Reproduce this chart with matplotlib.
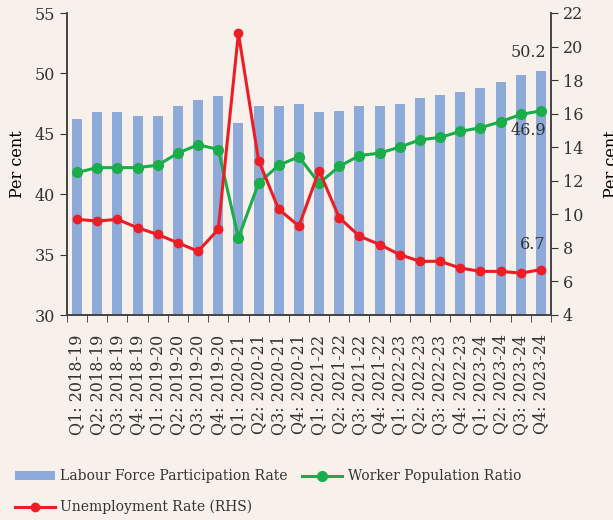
import matplotlib
matplotlib.use("Agg")
import matplotlib.pyplot as plt
import numpy as np

quarters = [
    "Q1: 2018-19", "Q2: 2018-19", "Q3: 2018-19", "Q4: 2018-19",
    "Q1: 2019-20", "Q2: 2019-20", "Q3: 2019-20", "Q4: 2019-20",
    "Q1: 2020-21", "Q2: 2020-21", "Q3: 2020-21", "Q4: 2020-21",
    "Q1: 2021-22", "Q2: 2021-22", "Q3: 2021-22", "Q4: 2021-22",
    "Q1: 2022-23", "Q2: 2022-23", "Q3: 2022-23", "Q4: 2022-23",
    "Q1: 2023-24", "Q2: 2023-24", "Q3: 2023-24", "Q4: 2023-24",
]
lfpr = [46.2, 46.8, 46.8, 46.5, 46.5, 47.3, 47.8, 48.1, 45.9, 47.3, 47.3, 47.5,
        46.8, 46.9, 47.3, 47.3, 47.5, 48.0, 48.2, 48.5, 48.8, 49.3, 49.9, 50.2]
wpr = [41.8, 42.2, 42.2, 42.2, 42.4, 43.4, 44.1, 43.7, 36.4, 40.9, 42.4, 43.1,
       40.9, 42.3, 43.2, 43.4, 43.9, 44.5, 44.7, 45.2, 45.5, 46.0, 46.6, 46.9]
ur = [9.7, 9.6, 9.7, 9.2, 8.8, 8.3, 7.8, 9.1, 20.8, 13.2, 10.3, 9.3,
      12.6, 9.8, 8.7, 8.2, 7.6, 7.2, 7.2, 6.8, 6.6, 6.6, 6.5, 6.7]

BG = "#f7f0eb"
BAR = "#8eaad8"
GREEN = "#1aad4b"
RED = "#ee1d25"
INK = "#333333"

plt.rcParams["font.family"] = ["DejaVu Serif"]
plt.rcParams["text.color"] = INK
plt.rcParams["xtick.color"] = INK
plt.rcParams["ytick.color"] = INK

fig = plt.figure(figsize=(6.13, 5.2), dpi=100, facecolor=BG)
ax = fig.add_axes([67 / 613, 1 - 315 / 520, (551 - 67) / 613, (315 - 13) / 520])
ax.set_facecolor(BG)
ax2 = ax.twinx()

x = np.arange(len(quarters))
bars = ax.bar(x, lfpr, width=0.5, color=BAR, label="Labour Force Participation Rate", zorder=1)
(l_wpr,) = ax.plot(x, wpr, color=GREEN, lw=2.2, marker="o", ms=7,
                   label="Worker Population Ratio", zorder=3)
(l_ur,) = ax2.plot(x, ur, color=RED, lw=2.2, marker="o", ms=6,
                   label="Unemployment Rate (RHS)", zorder=3)

ax.set_xlim(-0.5, len(quarters) - 0.5)
ax.set_ylim(30, 55)
ax2.set_ylim(4, 22)
ax.set_yticks(np.arange(30, 56, 5))
ax2.set_yticks(np.arange(4, 23, 2))

ax.set_xticks(x)
ax.set_xticklabels(quarters, rotation=90, fontsize=11.5)
ax.tick_params(axis="x", length=0, pad=14)
ax.set_xticks(np.arange(-0.5, len(quarters), 1), minor=True)
ax.tick_params(axis="x", which="minor", length=5, direction="out", color=INK)
ax.tick_params(axis="y", labelsize=11.5, length=5, color=INK)
ax2.tick_params(axis="y", labelsize=11.5, length=5, color=INK)

for a in (ax, ax2):
    a.spines["top"].set_visible(False)
    for s in ("left", "right", "bottom"):
        a.spines[s].set_color("#444444")
        a.spines[s].set_linewidth(1.2)

ax.set_ylabel("Per cent", fontsize=11.5, labelpad=6)
ax2.set_ylabel("Per cent", fontsize=11.5, labelpad=14)

ax.text(x[-1] + 0.25, lfpr[-1] + 1.5, "50.2", ha="right", va="center", fontsize=11.5)
ax.text(x[-1] + 0.25, wpr[-1] - 1.6, "46.9", ha="right", va="center", fontsize=11.5)
ax2.text(x[-1] + 0.25, ur[-1] + 1.5, "6.7", ha="right", va="center", fontsize=11.5)

# column-wise fill: LFPR / UR in column 1, WPR in column 2
fig.legend([bars, l_ur, l_wpr],
           ["Labour Force Participation Rate", "Unemployment Rate (RHS)", "Worker Population Ratio"],
           loc="lower left", bbox_to_anchor=(9 / 613, 0.0), ncol=2,
           frameon=False, fontsize=10, handlelength=2.9, columnspacing=1.0,
           handletextpad=0.4, labelspacing=1.2, borderaxespad=0.0)

fig.savefig("out.png", dpi=100, facecolor=BG)
